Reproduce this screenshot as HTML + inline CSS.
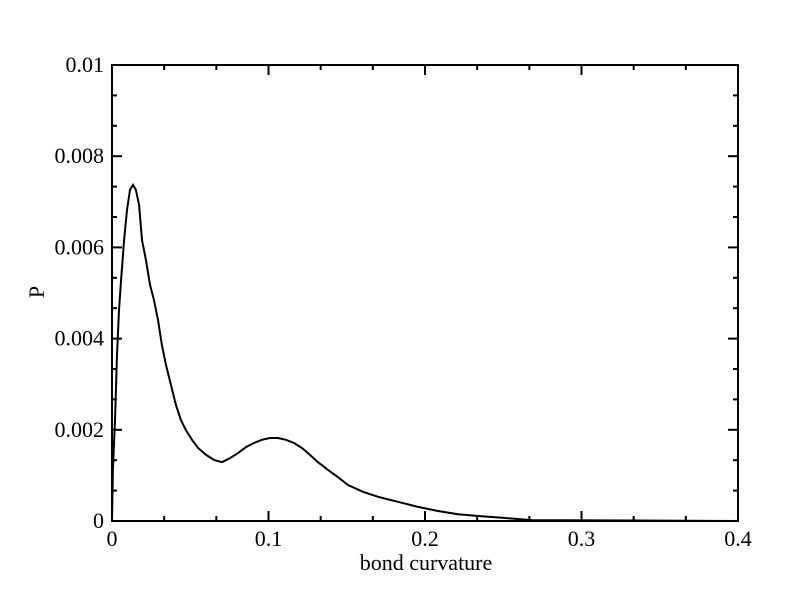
<!DOCTYPE html>
<html><head><meta charset="utf-8"><style>
html,body{margin:0;padding:0;background:#fff;}
svg{display:block;font-family:"Liberation Serif",serif;}
</style></head><body>
<svg id="chart" width="792" height="612" viewBox="0 0 792 612" xmlns="http://www.w3.org/2000/svg">
<g id="ticks"></g>
<rect x="112" y="65" width="626" height="456" fill="none" stroke="#000" stroke-width="2"/>
<path id="series" fill="none" stroke="#000" stroke-width="2"/>
<text x="44" y="292" font-size="22" text-anchor="middle" transform="rotate(-90 44 292)">P</text>
<text x="426" y="570" font-size="22" text-anchor="middle">bond curvature</text>
</svg>
<script>
const xTicks=[0,0.1,0.2,0.3,0.4];
const xTickLabels=["0","0.1","0.2","0.3","0.4"];
const yTicks=[0,0.002,0.004,0.006,0.008,0.01];
const yTickLabels=["0","0.002","0.004","0.006","0.008","0.01"];
const curvature=[0,0.0006,0.0019,0.0032,0.0045,0.0058,0.0077,0.0096,0.0115,0.0134,0.0153,0.0173,0.0192,0.0217,0.0243,0.0268,0.0294,0.0319,0.0345,0.0377,0.0409,0.0441,0.0473,0.0511,0.0550,0.0601,0.0652,0.0703,0.0754,0.0805,0.0856,0.0907,0.0958,0.1009,0.1060,0.1112,0.1163,0.1214,0.1265,0.1316,0.1380,0.1444,0.1508,0.1604,0.1700,0.1827,0.1955,0.2083,0.2211,0.2339,0.2492,0.2684,0.4];
const prob=[0,0.00112,0.00221,0.00364,0.00463,0.00529,0.00616,0.00682,0.00726,0.00737,0.00726,0.00693,0.00616,0.00572,0.00518,0.00485,0.00441,0.00386,0.00342,0.00298,0.00254,0.00221,0.00199,0.00178,0.00160,0.00145,0.00134,0.00129,0.00138,0.00149,0.00162,0.00171,0.00178,0.00182,0.00182,0.00178,0.00171,0.00160,0.00145,0.00129,0.00112,0.00096,0.00079,0.00064,0.00053,0.00042,0.00031,0.00022,0.00015,0.00011,0.00007,0.00002,0];
const X0=112,X1=738,Y0=521,Y1=65;
const sx=v=>X0+(v-0)/(0.4-0)*(X1-X0);
const sy=v=>Y0-(v-0)/(0.01-0)*(Y0-Y1);
const NS="http://www.w3.org/2000/svg";
const tg=document.getElementById('ticks');
function line(x1,y1,x2,y2,name){const l=document.createElementNS(NS,'line');
l.setAttribute('x1',x1);l.setAttribute('y1',y1);l.setAttribute('x2',x2);l.setAttribute('y2',y2);
l.setAttribute('stroke','#000');l.setAttribute('stroke-width','2');


tg.appendChild(l);}
function text(x,y,s,anchor,name){const t=document.createElementNS(NS,'text');
t.setAttribute('x',x);t.setAttribute('y',y);t.setAttribute('font-size','22');t.setAttribute('text-anchor',anchor);t.textContent=s;


tg.appendChild(t);}
xTicks.forEach((v,i)=>{const x=sx(v);
line(x,Y0,x,Y0-10,'x-major-tick');line(x,Y1,x,Y1+10,'x-major-tick-top');
text(x,Y0+25,xTickLabels[i],'middle','x-tick-label');
if(i<xTicks.length-1){for(let k=1;k<3;k++){const xm=sx(v+(xTicks[i+1]-v)*k/3);
line(xm,Y0,xm,Y0-5,'x-minor-tick');line(xm,Y1,xm,Y1+5,'x-minor-tick-top');}}});
yTicks.forEach((v,i)=>{const y=sy(v);
line(X0,y,X0+10,y,'y-major-tick');line(X1,y,X1-10,y,'y-major-tick-right');
text(X0-8,y+7,yTickLabels[i],'end','y-tick-label');
if(i<yTicks.length-1){for(let k=1;k<3;k++){const ym=sy(v+(yTicks[i+1]-v)*k/3);
line(X0,ym,X0+5,ym,'y-minor-tick');line(X1,ym,X1-5,ym,'y-minor-tick-right');}}});
document.getElementById('series').setAttribute('d',curvature.map((c,i)=>(i?'L':'M')+sx(c).toFixed(1)+','+sy(prob[i]).toFixed(1)).join(''));
</script>
</body></html>
